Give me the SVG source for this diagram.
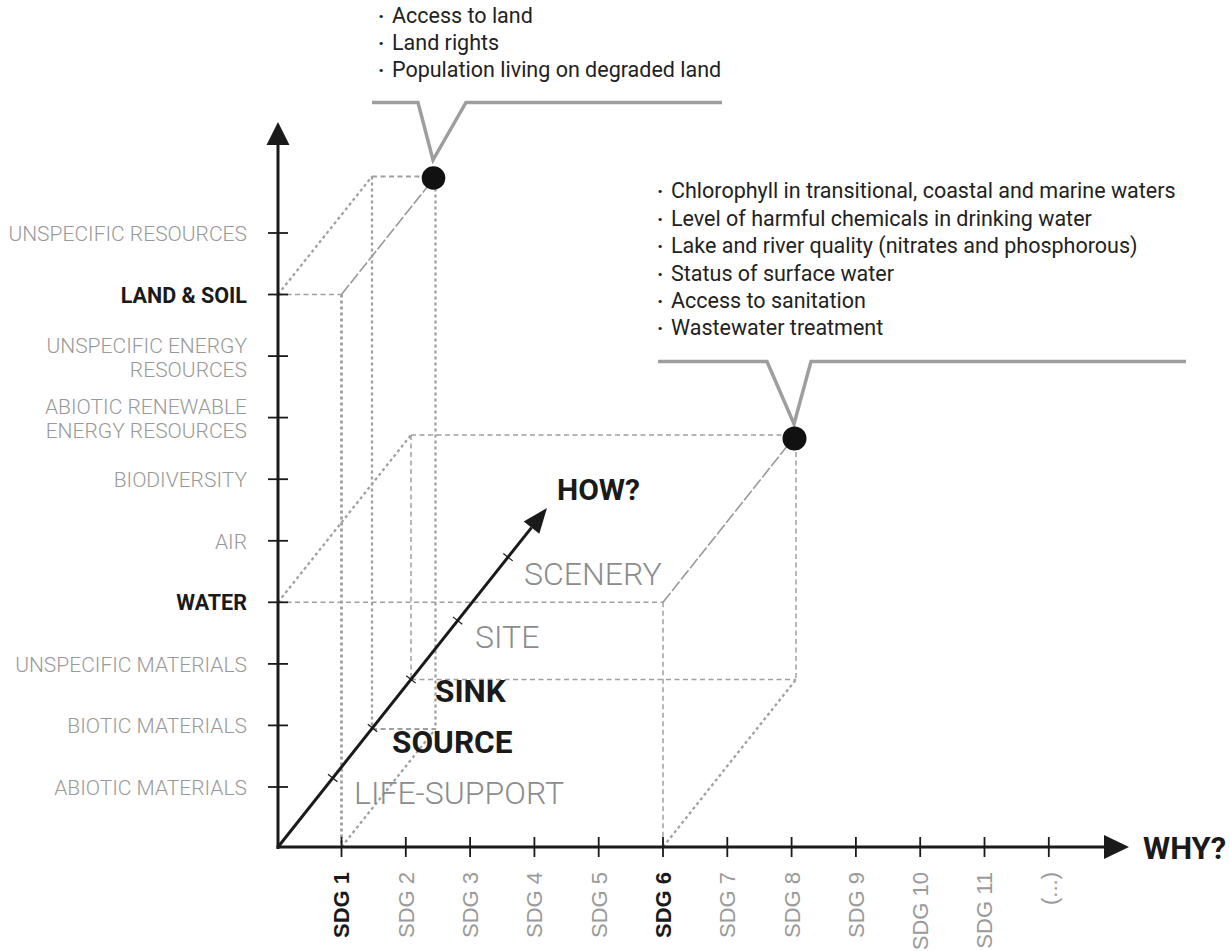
<svg xmlns="http://www.w3.org/2000/svg" width="1230" height="951" viewBox="0 0 1230 951">
<style>
.dash{fill:none;stroke:#a0a0a0;stroke-width:1.5;stroke-dasharray:5 3.5}
.dot{fill:none;stroke:#a0a0a0;stroke-width:2.3;stroke-dasharray:3 3}
.long{fill:none;stroke:#999;stroke-width:1.6;stroke-dasharray:12 2.5}
.axis{fill:none;stroke:#1a1a1a;stroke-width:3}
.tick{stroke:#1a1a1a;stroke-width:1.8}
.htick{stroke:#1a1a1a;stroke-width:1.2}
.head{fill:#1a1a1a}
.callout{fill:none;stroke:#9e9e9e;stroke-width:3.5;stroke-linejoin:miter}
.ylab{font-family:Roboto,"Liberation Sans",sans-serif;font-size:21px;font-weight:300;fill:#999;text-anchor:end}
.ylab.b{font-weight:700;fill:#1a1a1a;font-size:21.5px}
.sdg{font-family:"Liberation Sans",Arial,sans-serif;font-size:22px;fill:#9a9a9a;text-anchor:end}
.sdg.b{font-weight:700;fill:#1a1a1a}
.depth{font-family:Roboto,"Liberation Sans",sans-serif;font-size:32px;font-weight:300;fill:#8c8c8c}
.depth.b{font-weight:700;fill:#1a1a1a;font-size:31.5px}
.big{font-family:Roboto,"Liberation Sans",sans-serif;font-weight:700;fill:#1a1a1a}
.note{font-family:Roboto,"Liberation Sans",sans-serif;font-size:21.5px;fill:#222}
.bu{font-size:21px;font-weight:700}
</style>

<g id="connectors">
  <g id="box-land-soil">
    <line class="dash" x1="278" y1="294.5" x2="341.5" y2="294.5"/>
    <line class="dot" x1="341.5" y1="294.5" x2="341.5" y2="847" style="stroke-width:2.8"/>
    <line class="dot" x1="278" y1="294.5" x2="372" y2="176.5"/>
    <line class="long" x1="341.5" y1="294.5" x2="435.5" y2="176.5"/>
    <line class="dash" x1="372" y1="176.5" x2="435.5" y2="176.5" style="stroke-width:2"/>
    <line class="dot" x1="372" y1="176.5" x2="372" y2="729"/>
    <line class="dot" x1="435.5" y1="176.5" x2="435.5" y2="729"/>
    <line class="dash" x1="372" y1="729" x2="435.5" y2="729" style="stroke-width:2"/>
    <line class="dot" x1="341.5" y1="847" x2="435.5" y2="729"/>
  </g>
  <g id="box-water">
    <line class="dash" x1="278" y1="602.3" x2="663" y2="602.3"/>
    <line class="dash" x1="663" y1="602.3" x2="663" y2="847"/>
    <line class="dot" x1="278" y1="602.3" x2="411" y2="435"/>
    <line class="long" x1="663" y1="602.3" x2="796" y2="435"/>
    <line class="dash" x1="411" y1="435" x2="796" y2="435"/>
    <line class="dash" x1="411" y1="435" x2="411" y2="679.5"/>
    <line class="dash" x1="796" y1="435" x2="796" y2="679.5"/>
    <line class="dash" x1="411" y1="679.5" x2="796" y2="679.5"/>
    <line class="dot" x1="663" y1="847" x2="796" y2="679.5"/>
  </g>
</g>

<g id="axes">
  <line class="axis" x1="278" y1="849" x2="278" y2="140"/>
  <polygon class="head" points="278,122 266.5,145 289.5,145"/>
  <line class="axis" x1="276.5" y1="847" x2="1108" y2="847"/>
  <polygon class="head" points="1129,847 1104,835 1104,859"/>
  <line class="axis" x1="278" y1="847" x2="531.5" y2="527.6"/>
  <polygon class="head" points="547,508 539.3,533.8 523.7,521.4"/>
  <g id="y-ticks">
    <line class="tick" x1="268" y1="787" x2="288" y2="787"/>
    <line class="tick" x1="268" y1="725.4" x2="288" y2="725.4"/>
    <line class="tick" x1="268" y1="663.9" x2="288" y2="663.9"/>
    <line class="tick" x1="268" y1="602.3" x2="288" y2="602.3"/>
    <line class="tick" x1="268" y1="540.8" x2="288" y2="540.8"/>
    <line class="tick" x1="268" y1="479.2" x2="288" y2="479.2"/>
    <line class="tick" x1="268" y1="417.6" x2="288" y2="417.6"/>
    <line class="tick" x1="268" y1="356.1" x2="288" y2="356.1"/>
    <line class="tick" x1="268" y1="294.5" x2="288" y2="294.5"/>
    <line class="tick" x1="268" y1="233" x2="288" y2="233"/>
  </g>
  <g id="x-ticks">
    <line class="tick" x1="341.5" y1="837" x2="341.5" y2="857"/>
    <line class="tick" x1="405.8" y1="837" x2="405.8" y2="857"/>
    <line class="tick" x1="470.1" y1="837" x2="470.1" y2="857"/>
    <line class="tick" x1="534.4" y1="837" x2="534.4" y2="857"/>
    <line class="tick" x1="598.7" y1="837" x2="598.7" y2="857"/>
    <line class="tick" x1="663" y1="837" x2="663" y2="857"/>
    <line class="tick" x1="727.3" y1="837" x2="727.3" y2="857"/>
    <line class="tick" x1="791.6" y1="837" x2="791.6" y2="857"/>
    <line class="tick" x1="855.9" y1="837" x2="855.9" y2="857"/>
    <line class="tick" x1="920.2" y1="837" x2="920.2" y2="857"/>
    <line class="tick" x1="984.5" y1="837" x2="984.5" y2="857"/>
    <line class="tick" x1="1048.8" y1="837" x2="1048.8" y2="857"/>
  </g>
  <g id="how-ticks">
    <line class="htick" x1="328" y1="774.3" x2="337.4" y2="781.8"/>
    <line class="htick" x1="367.8" y1="724.2" x2="377.2" y2="731.7"/>
    <line class="htick" x1="406.3" y1="675.7" x2="415.7" y2="683.1"/>
    <line class="htick" x1="452.9" y1="616.9" x2="462.3" y2="624.3"/>
    <line class="htick" x1="503.3" y1="553.5" x2="512.7" y2="560.9"/>
  </g>
  <text class="big" x="557" y="500" font-size="30">HOW?</text>
  <text class="big" x="1143" y="859" font-size="31">WHY?</text>
</g>

<g id="y-labels">
  <text class="ylab" x="247" y="241">UNSPECIFIC RESOURCES</text>
  <text class="ylab b" x="247" y="302.5">LAND &amp; SOIL</text>
  <text class="ylab" x="247" y="352.5">UNSPECIFIC ENERGY</text>
  <text class="ylab" x="247" y="376.5">RESOURCES</text>
  <text class="ylab" x="247" y="414">ABIOTIC RENEWABLE</text>
  <text class="ylab" x="247" y="438">ENERGY RESOURCES</text>
  <text class="ylab" x="247" y="487.2">BIODIVERSITY</text>
  <text class="ylab" x="247" y="548.8">AIR</text>
  <text class="ylab b" x="247" y="610.3">WATER</text>
  <text class="ylab" x="247" y="671.9">UNSPECIFIC MATERIALS</text>
  <text class="ylab" x="247" y="733.4">BIOTIC MATERIALS</text>
  <text class="ylab" x="247" y="795">ABIOTIC MATERIALS</text>
</g>

<g id="x-labels">
  <text class="sdg b" transform="translate(349.4,872) rotate(-90)">SDG 1</text>
  <text class="sdg" transform="translate(413.7,872) rotate(-90)">SDG 2</text>
  <text class="sdg" transform="translate(478,872) rotate(-90)">SDG 3</text>
  <text class="sdg" transform="translate(542.3,872) rotate(-90)">SDG 4</text>
  <text class="sdg" transform="translate(606.6,872) rotate(-90)">SDG 5</text>
  <text class="sdg b" transform="translate(670.9,872) rotate(-90)">SDG 6</text>
  <text class="sdg" transform="translate(735.2,872) rotate(-90)">SDG 7</text>
  <text class="sdg" transform="translate(799.5,872) rotate(-90)">SDG 8</text>
  <text class="sdg" transform="translate(863.8,872) rotate(-90)">SDG 9</text>
  <text class="sdg" transform="translate(928.1,872) rotate(-90)">SDG 10</text>
  <text class="sdg" transform="translate(992.4,872) rotate(-90)">SDG 11</text>
  <text class="sdg" transform="translate(1056.7,872) rotate(-90)">(...)</text>
</g>

<g id="depth-labels">
  <text class="depth" x="524" y="585">SCENERY</text>
  <text class="depth" x="475" y="648">SITE</text>
  <text class="depth b" x="435" y="702">SINK</text>
  <text class="depth b" x="392" y="753">SOURCE</text>
  <text class="depth" x="354" y="804">LIFE-SUPPORT</text>
</g>

<g id="callout-land">
  <polyline class="callout" points="372,102.5 418,102.5 433,160 466,102.5 722,102.5"/>
  <circle cx="433.5" cy="178" r="11.8" fill="#111"/>
  <text class="note" x="378" y="23"><tspan class="bu">·</tspan><tspan x="392">Access to land</tspan></text>
  <text class="note" x="378" y="50"><tspan class="bu">·</tspan><tspan x="392">Land rights</tspan></text>
  <text class="note" x="378" y="77"><tspan class="bu">·</tspan><tspan x="392">Population living on degraded land</tspan></text>
</g>

<g id="callout-water">
  <polyline class="callout" points="658,361.5 767,361.5 794,424 811,361.5 1186,361.5"/>
  <circle cx="794.5" cy="438.5" r="12" fill="#111"/>
  <text class="note" x="657" y="198"><tspan class="bu">·</tspan><tspan x="671">Chlorophyll in transitional, coastal and marine waters</tspan></text>
  <text class="note" x="657" y="225.5"><tspan class="bu">·</tspan><tspan x="671">Level of harmful chemicals in drinking water</tspan></text>
  <text class="note" x="657" y="253"><tspan class="bu">·</tspan><tspan x="671">Lake and river quality (nitrates and phosphorous)</tspan></text>
  <text class="note" x="657" y="280.5"><tspan class="bu">·</tspan><tspan x="671">Status of surface water</tspan></text>
  <text class="note" x="657" y="307.5"><tspan class="bu">·</tspan><tspan x="671">Access to sanitation</tspan></text>
  <text class="note" x="657" y="334.5"><tspan class="bu">·</tspan><tspan x="671">Wastewater treatment</tspan></text>
</g>
</svg>
